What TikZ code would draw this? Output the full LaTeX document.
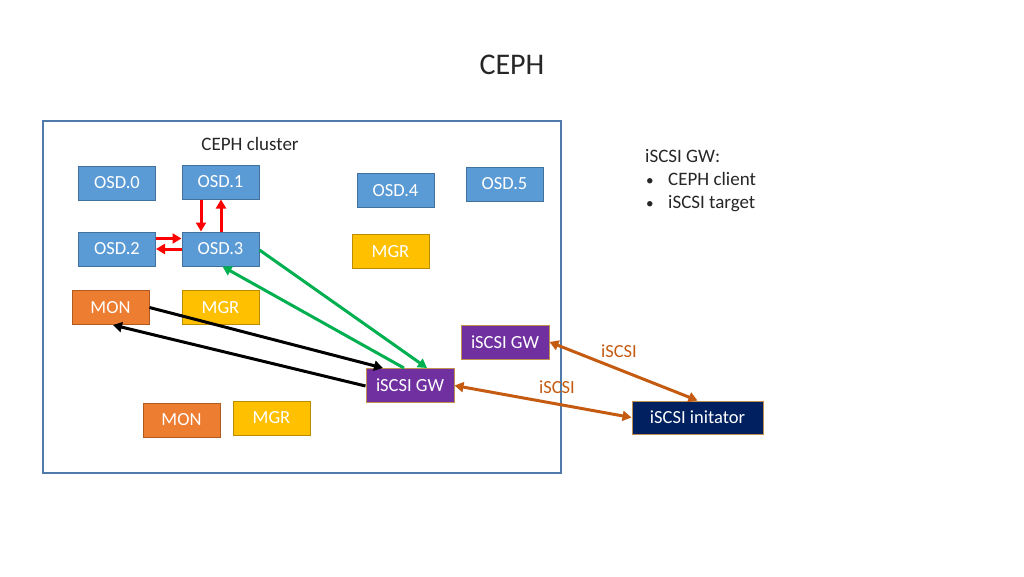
\documentclass[tikz,border=0pt]{standalone}
\usepackage{fontspec}
\setmainfont{Carlito}
\usetikzlibrary{arrows.meta}
\definecolor{osdblue}{HTML}{5B9BD5}
\definecolor{osdedge}{HTML}{41719C}
\definecolor{clusteredge}{HTML}{4F7BAA}
\definecolor{monfill}{HTML}{ED7D31}
\definecolor{monedge}{HTML}{AE5A21}
\definecolor{mgrfill}{HTML}{FFC000}
\definecolor{mgredge}{HTML}{BC8C00}
\definecolor{gwfill}{HTML}{7030A0}
\definecolor{gwedge}{HTML}{BF9050}
\definecolor{inifill}{HTML}{002060}
\definecolor{linkorange}{HTML}{C55A11}
\definecolor{greenarr}{HTML}{00B050}
\definecolor{txtgray}{HTML}{262626}
\tikzset{
  box/.style={rectangle, minimum width=77pt, minimum height=34pt, inner sep=0pt, text=white, font=\fontsize{18.5}{22}\selectfont, line width=1pt},
  osd/.style={box, fill=osdblue, draw=osdedge},
  mon/.style={box, fill=monfill, draw=monedge},
  mgr/.style={box, fill=mgrfill, draw=mgredge},
  gw/.style={box, minimum width=88pt, fill=gwfill, draw=gwedge},
  ini/.style={box, minimum width=131pt, minimum height=33pt, fill=inifill, draw=gwedge},
  arr/.style={line width=3pt, -{Triangle[length=9pt,width=10pt]}},
  darr/.style={line width=3pt, {Triangle[length=9pt,width=10pt]}-{Triangle[length=9pt,width=10pt]}},
}
\begin{document}
\begin{tikzpicture}[x=1pt,y=-1pt]
\useasboundingbox (0,0) rectangle (1024,576);
\node[font=\fontsize{30}{34}\selectfont, text=txtgray] (title) at (512,65) {CEPH};
\node[draw=clusteredge, line width=1.2pt, minimum width=518pt, minimum height=352pt, inner sep=0pt] (cluster) at (302,297) {};
\node[font=\fontsize{19}{22}\selectfont, text=txtgray] (clabel) at (250,144) {CEPH cluster};
\node[osd] (osd0) at (117,183) {OSD.0};
\node[osd] (osd1) at (220.5,182) {OSD.1};
\node[osd] (osd2) at (117,249) {OSD.2};
\node[osd] (osd3) at (220.5,249) {OSD.3};
\node[osd] (osd4) at (395.5,190.5) {OSD.4};
\node[osd] (osd5) at (504.5,184) {OSD.5};
\node[mgr] (mgr1) at (390.5,251.5) {MGR};
\node[mon] (mon1) at (110.5,307.5) {MON};
\node[mgr] (mgr2) at (220.5,307.5) {MGR};
\node[gw] (gw1) at (410,385.5) {iSCSI GW};
\node[gw] (gw2) at (505,342) {iSCSI GW};
\node[ini] (ini) at (697.5,417.5) {iSCSI initator};
\node[mon] (mon2) at (181.5,420) {MON};
\node[mgr] (mgr3) at (271.5,418) {MGR};
% info text
\node[anchor=north west, align=left, inner sep=0pt, text=txtgray, font=\fontsize{19}{23}\selectfont] (info) at (645,149) {iSCSI GW:\\
\makebox[23pt][l]{\hspace{1pt}\scalebox{0.8}{\textbullet}}CEPH client\\
\makebox[23pt][l]{\hspace{1pt}\scalebox{0.8}{\textbullet}}iSCSI target};
% red arrows
\draw[arr, red] ([xshift=-19.5pt]osd1.south) -- ([xshift=-19.5pt]osd3.north);
\draw[arr, red] ([xshift=0.5pt]osd3.north) -- ([xshift=0.5pt]osd1.south);
\draw[arr, red] ([yshift=10.5pt]osd2.east) -- ([yshift=10.5pt]osd3.west);
\draw[arr, red] ([yshift=0pt]osd3.west) -- ([yshift=0pt]osd2.east);
% green arrows
\draw[arr, greenarr] ([yshift=-1pt]osd3.east) -- ([xshift=17pt]gw1.north);
\draw[arr, greenarr] ([xshift=-6pt]gw1.north) -- ([xshift=2pt]osd3.south);
% black arrows
\draw[arr, black] (mon1.east) -- ([xshift=-27pt]gw1.north);
\draw[arr, black] ([yshift=-0.5pt]gw1.west) -- ([xshift=2.5pt]mon1.south);
% orange links
\draw[darr, linkorange] (gw2.east) -- (ini.north);
\draw[darr, linkorange] (gw1.east) -- (ini.west);
\node[text=linkorange, font=\fontsize{18.5}{22}\selectfont] (l1) at (619,351) {iSCSI};
\node[text=linkorange, font=\fontsize{18.5}{22}\selectfont] (l2) at (557,387) {iSCSI};
\end{tikzpicture}
\end{document}
